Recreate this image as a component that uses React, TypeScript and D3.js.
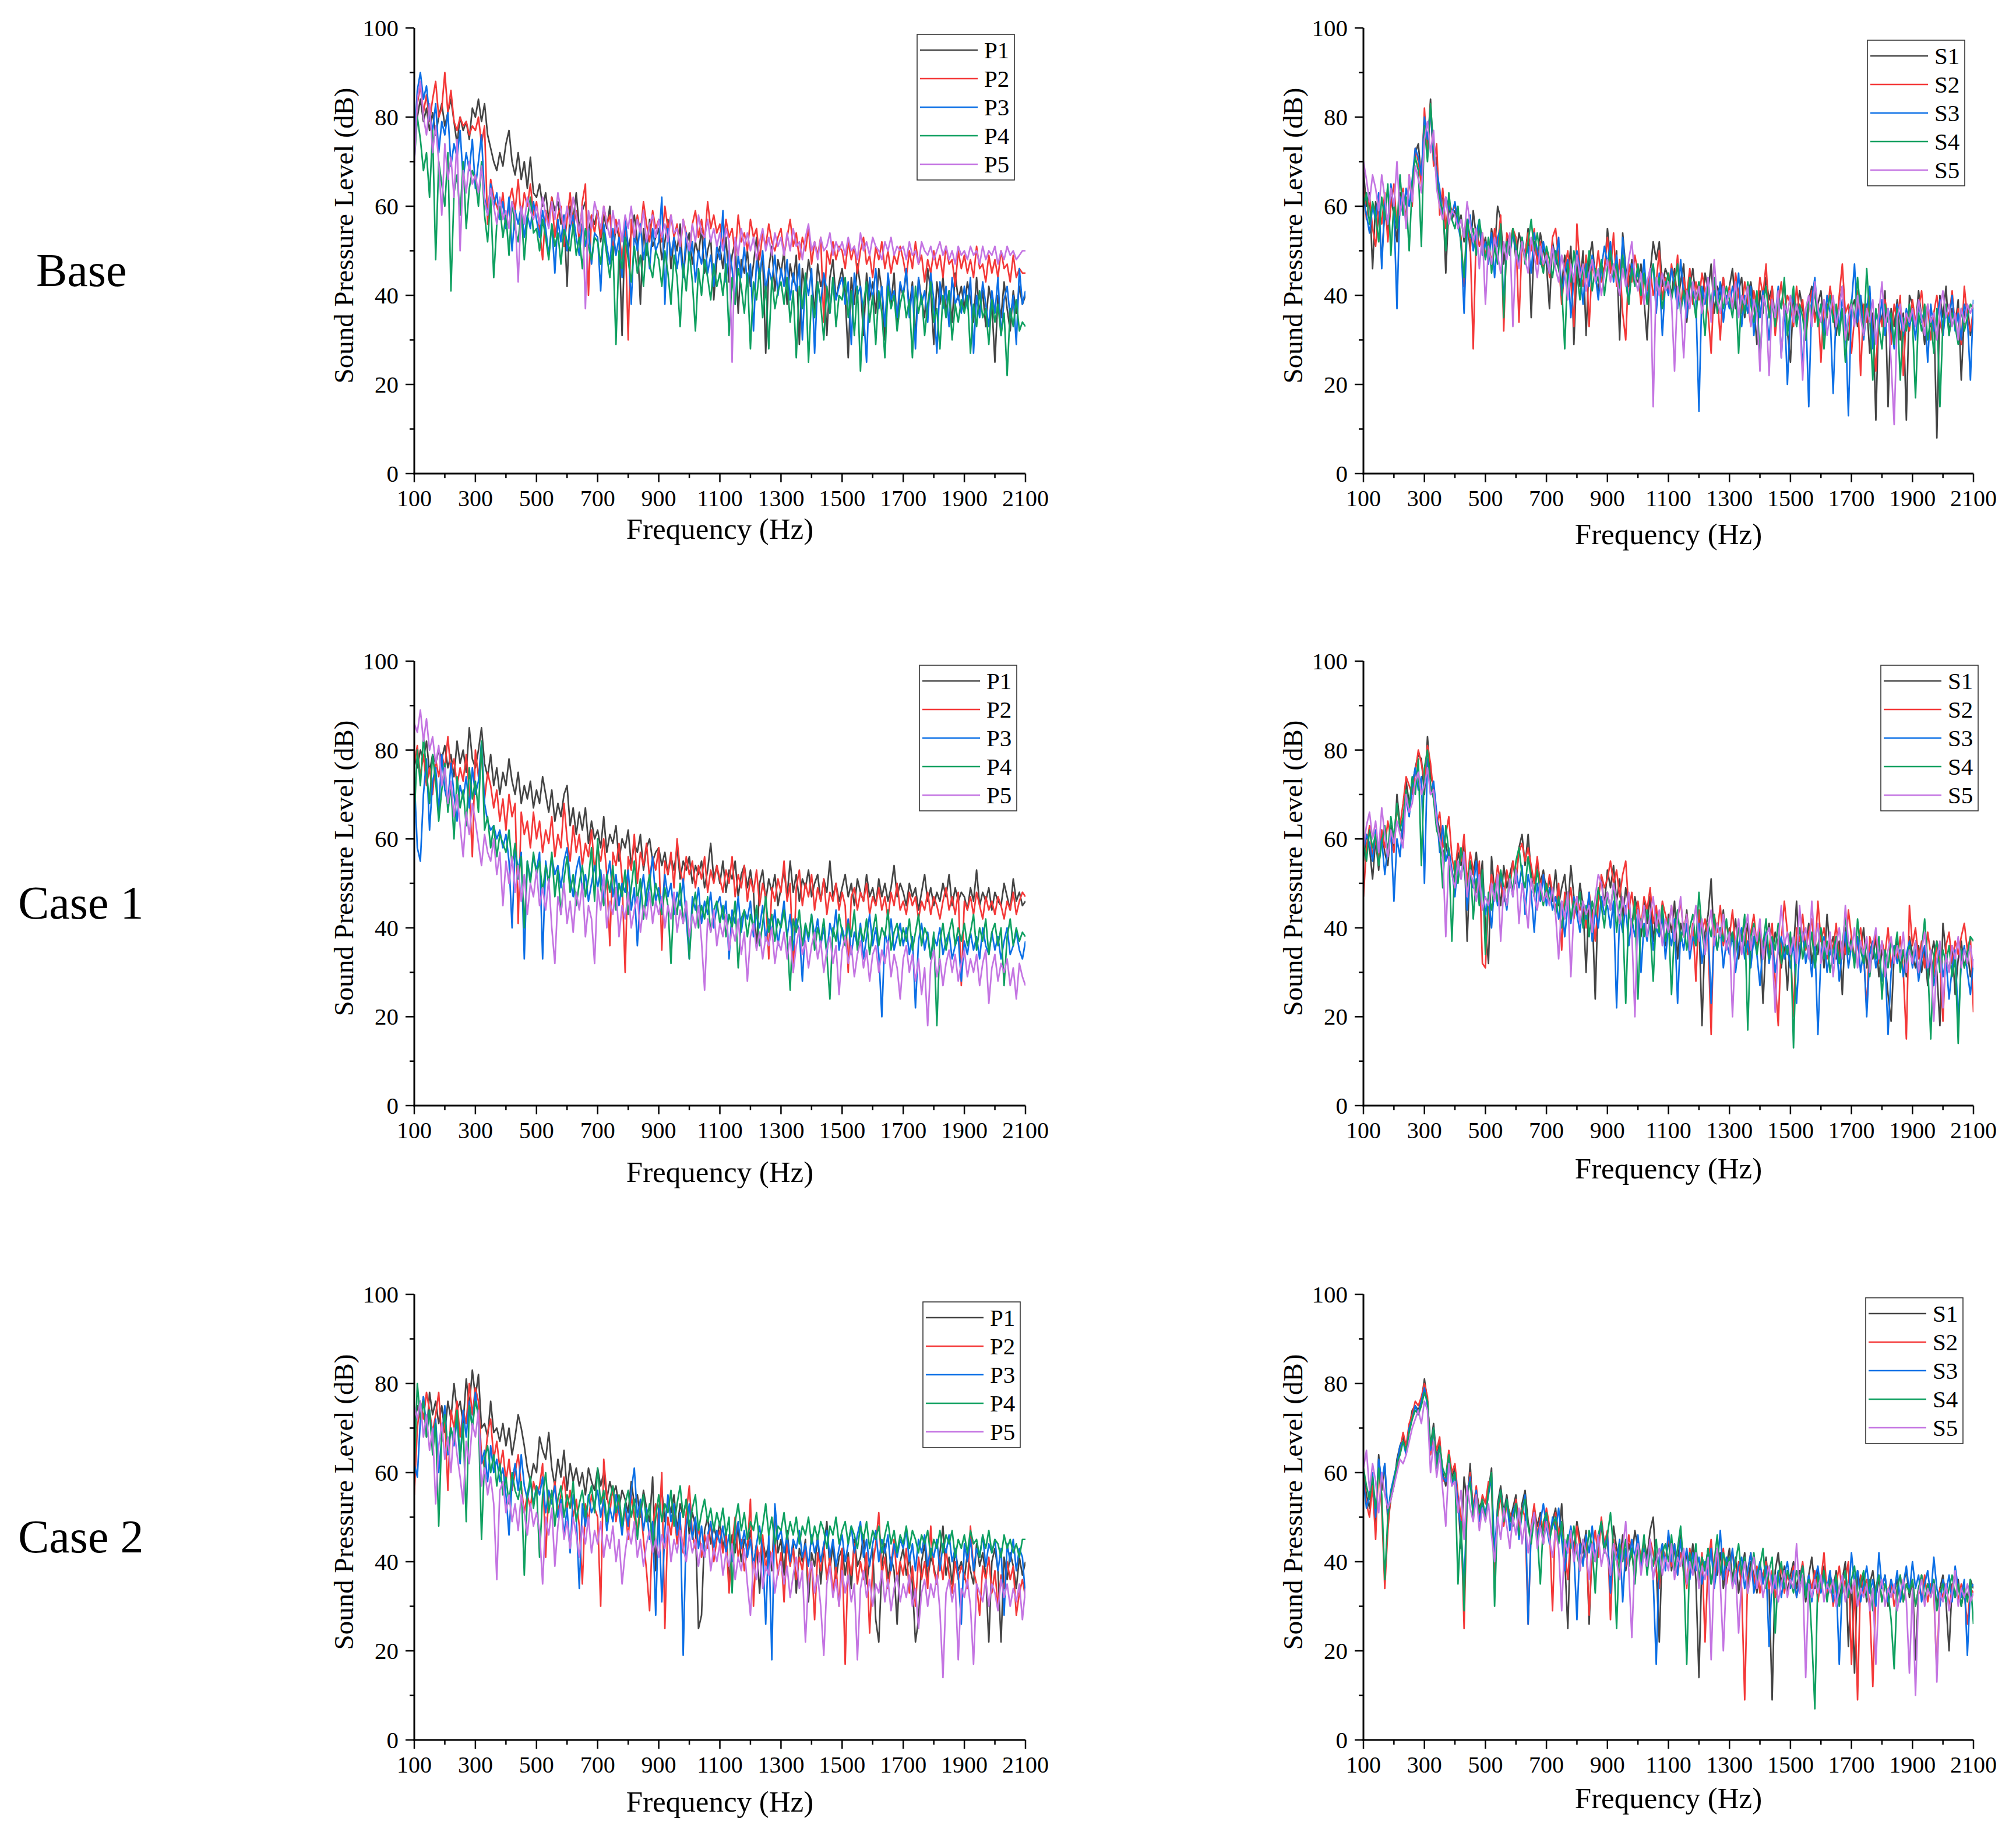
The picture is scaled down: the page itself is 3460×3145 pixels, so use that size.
import React from 'react';
import * as d3 from 'd3';

// sampling grid of the spectra (Hz)
const FREQS = d3.range(100, 2101, 10);
const X_TICKS = [100, 300, 500, 700, 900, 1100, 1300, 1500, 1700, 1900, 2100];
const X_MINOR = [200, 400, 600, 800, 1000, 1200, 1400, 1600, 1800, 2000];
const Y_TICKS = [0, 20, 40, 60, 80, 100];
const Y_MINOR = [10, 30, 50, 70, 90];
const ROW_LABELS = ['Base', 'Case 1', 'Case 2'];
const P_NAMES = ['P1', 'P2', 'P3', 'P4', 'P5'];
const S_NAMES = ['S1', 'S2', 'S3', 'S4', 'S5'];
const LINE_COLORS = ['#444444', '#f43838', '#0b6fe6', '#0fa060', '#c474e2'];

// ---- Base, P points ----
const baseP1 = [
  72,80,84,79,82,77,81,76,80,83,78,81,84,79,74,80,77,79,75,82,
  80,84,79,83,76,73,70,68,72,69,74,77,70,67,72,66,70,64,71,63,
  62,65,60,63,57,62,59,61,56,58,42,60,57,63,55,59,61,54,58,56,
  59,52,58,55,60,48,56,53,31,57,50,54,58,52,38,55,49,57,51,53,
  55,48,52,57,46,53,50,56,44,51,54,47,52,49,55,45,50,53,39,48,
  51,46,53,43,49,52,36,48,45,50,42,47,53,44,49,27,46,51,41,48,
  45,50,38,47,43,49,29,46,41,48,44,36,47,42,45,31,44,48,39,43,
  46,40,26,44,38,47,42,31,45,39,43,36,46,41,30,44,38,45,33,42,
  40,45,37,43,30,44,39,35,46,41,29,43,38,44,36,41,34,45,39,42,
  37,43,39,34,44,36,41,33,42,38,25,40,35,43,37,32,41,36,42,38,
  40];
const baseP2 = [
  76,83,87,81,85,79,84,88,80,82,90,81,86,79,77,80,78,79,76,78,
  77,80,74,78,56,66,62,60,58,63,55,61,64,59,66,57,63,60,65,58,
  61,55,48,59,56,62,53,58,60,51,57,63,55,59,52,61,65,40,58,54,
  59,53,60,56,58,50,57,54,48,55,30,57,52,58,54,61,56,52,59,55,
  57,52,60,55,58,53,56,50,57,54,49,56,59,53,57,52,61,55,58,54,
  56,51,57,53,55,49,58,52,54,50,57,53,55,48,54,51,56,52,50,53,
  55,49,53,57,51,54,48,53,50,55,47,52,49,53,34,50,47,52,48,51,
  50,46,52,48,51,45,50,53,47,49,44,51,48,52,46,50,45,49,47,51,
  48,44,50,46,52,47,49,43,48,45,50,46,49,44,51,47,48,42,50,46,
  49,45,48,44,51,46,47,43,49,45,48,44,50,46,47,43,49,44,46,45,
  45];
const baseP3 = [
  74,86,90,84,87,80,77,83,72,79,76,81,69,74,71,77,66,72,68,75,
  64,70,76,62,58,65,60,63,57,61,55,62,50,59,56,60,53,58,55,61,
  57,53,59,55,49,56,45,57,52,58,50,55,58,53,49,56,51,55,47,54,
  53,41,56,51,47,55,49,53,44,57,51,38,54,50,56,48,53,46,55,50,
  52,62,38,55,49,53,46,51,44,54,48,52,43,50,47,53,45,49,42,51,
  48,59,43,50,46,38,49,44,51,42,47,32,48,44,50,41,46,43,49,40,
  46,42,48,39,45,41,47,30,44,40,46,27,43,38,45,41,36,44,39,42,
  44,38,43,29,45,40,42,36,25,44,39,46,37,42,33,45,39,41,35,43,
  40,46,35,42,28,44,38,41,34,45,39,27,43,37,42,33,44,38,40,36,
  42,37,44,27,40,35,43,38,33,41,36,44,31,39,42,35,40,29,46,38,
  41];
const baseP4 = [
  70,80,75,68,72,62,77,48,70,65,60,72,41,63,67,58,70,55,64,68,
  66,60,70,58,52,62,44,56,60,53,58,49,61,55,52,59,48,57,62,54,
  55,50,57,53,48,56,51,54,47,55,52,50,56,49,53,46,55,51,48,53,
  52,47,54,49,44,51,29,50,46,53,48,43,51,45,49,42,52,47,44,50,
  48,42,50,45,38,49,44,33,47,41,50,43,32,46,40,48,44,39,47,42,
  45,40,47,31,44,38,46,42,36,45,28,43,39,46,35,42,28,44,37,41,
  43,38,44,34,41,26,42,37,45,25,40,35,43,38,30,42,36,44,33,40,
  39,44,35,41,31,42,23,38,43,34,40,29,41,36,26,42,37,40,32,38,
  41,35,39,26,42,36,40,31,38,43,34,37,28,40,35,41,30,38,34,39,
  36,40,27,38,33,41,35,37,29,39,34,38,31,36,22,37,33,39,32,34,
  33];
const baseP5 = [
  69,84,88,80,76,83,72,78,70,58,74,66,71,62,75,50,68,63,70,65,
  67,63,69,61,58,64,60,56,62,57,59,55,61,58,43,60,56,62,59,57,
  60,56,62,58,55,61,57,63,59,55,60,56,62,58,54,60,37,59,55,61,
  58,55,60,56,53,59,54,57,52,58,55,60,53,57,54,59,52,56,58,53,
  57,53,56,52,58,54,55,51,57,53,50,56,52,58,54,53,57,52,55,51,
  54,50,55,52,25,53,49,55,51,54,50,53,48,52,55,50,53,49,54,51,
  53,49,54,50,55,51,52,48,53,56,50,52,48,53,50,51,54,49,52,50,
  52,49,53,50,51,48,54,50,52,49,53,51,50,48,52,50,53,49,51,50,
  51,48,52,49,50,47,52,50,49,51,48,50,52,49,51,48,50,47,51,49,
  50,48,51,49,50,47,51,48,50,49,51,47,50,48,51,49,50,48,49,50,
  50];

// ---- Base, S points ----
const baseS1 = [
  68,60,63,46,61,57,48,59,54,62,58,52,63,60,58,66,62,72,74,66,
  80,73,84,70,71,60,63,45,60,57,59,55,58,52,57,50,59,53,55,50,
  53,48,55,50,60,57,47,53,50,55,48,54,51,49,55,35,52,48,54,50,
  47,37,52,48,46,42,49,44,51,29,47,42,50,31,48,52,44,41,47,45,
  55,48,44,50,30,54,46,42,48,44,43,47,39,30,45,52,48,52,42,46,
  44,40,46,38,43,47,34,42,46,39,43,37,45,41,47,36,42,40,44,38,
  42,46,37,41,44,35,40,43,38,29,41,36,44,39,42,34,40,37,43,32,
  25,40,35,41,37,33,39,42,35,38,41,33,37,40,36,31,38,42,34,30,
  37,39,33,40,35,38,27,36,12,38,34,41,15,37,33,39,30,36,12,40,
  38,33,41,35,29,38,33,36,8,40,35,42,31,37,33,39,21,36,38,31,
  35];
const baseS2 = [
  64,57,62,55,51,60,56,63,52,60,65,55,61,64,56,67,60,73,70,65,
  82,71,83,69,74,58,64,55,61,59,60,57,53,42,56,52,28,55,51,54,
  49,52,47,55,51,58,32,54,52,55,53,34,52,49,54,50,55,47,52,46,
  50,44,53,55,48,38,46,50,43,33,56,46,42,49,33,47,44,50,43,46,
  53,45,54,42,48,36,30,47,43,49,45,38,44,41,46,40,43,50,39,44,
  41,47,42,49,37,44,40,46,38,43,39,45,41,36,27,43,40,30,44,38,
  42,37,45,40,36,43,39,33,41,37,44,40,47,35,42,31,38,43,36,40,
  38,33,42,36,39,30,37,41,34,38,25,39,35,42,37,33,40,47,36,38,
  27,35,41,22,38,34,40,31,23,37,33,39,35,29,38,34,40,22,36,32,
  39,34,37,41,33,38,30,36,40,34,31,38,35,41,33,37,29,42,35,32,
  37];
const baseS3 = [
  62,58,54,60,57,63,46,61,56,65,59,37,62,58,64,60,66,73,71,67,
  80,75,82,71,68,64,57,62,60,58,61,56,52,36,55,58,50,54,57,49,
  52,47,54,44,53,55,38,52,49,54,50,47,53,48,51,45,54,50,47,52,
  48,45,51,47,53,40,45,48,35,44,50,46,38,47,42,49,45,39,46,51,
  47,52,43,49,41,53,45,38,47,43,45,41,48,39,44,47,36,45,31,43,
  40,46,42,37,48,40,35,44,41,39,14,42,38,44,36,41,38,43,34,40,
  37,42,39,45,33,40,36,42,31,39,35,41,37,30,39,35,42,26,38,20,
  36,41,33,38,23,37,15,39,44,35,38,31,40,36,18,37,33,39,35,13,
  38,47,34,40,30,37,42,28,36,33,39,31,37,34,28,38,35,31,37,33,
  36,30,39,34,37,25,38,32,35,39,31,37,34,40,32,36,30,38,35,21,
  39];
const baseS4 = [
  60,63,56,61,58,52,62,57,65,49,61,55,67,58,62,50,65,71,68,51,
  78,70,83,73,66,61,59,50,63,57,55,60,51,44,57,53,55,49,57,52,
  48,53,45,51,47,56,35,52,49,55,51,48,53,47,52,57,50,54,48,45,
  51,48,44,50,46,42,28,47,43,50,45,39,47,44,50,41,46,43,48,40,
  46,50,44,47,41,49,43,38,46,42,47,40,45,38,43,47,41,44,37,42,
  45,39,43,47,36,41,38,44,40,35,43,39,31,42,38,44,36,40,37,42,
  39,35,42,27,40,36,43,38,34,41,25,38,42,35,39,33,40,37,44,31,
  37,42,33,38,35,30,39,36,41,33,38,28,36,40,34,38,31,37,25,35,
  39,34,44,36,31,46,35,21,37,33,28,38,34,36,29,37,21,35,32,38,
  34,17,36,32,38,30,35,27,37,15,34,38,31,36,33,29,37,32,35,38,
  37];
const baseS5 = [
  70,66,61,67,64,59,67,62,56,64,60,70,58,63,55,67,61,69,66,63,
  75,79,72,77,64,60,57,62,56,59,58,55,57,53,61,56,52,55,46,54,
  38,51,47,53,49,45,52,48,54,33,50,46,52,48,45,53,49,44,51,47,
  49,45,51,46,43,49,45,39,47,43,49,44,47,41,45,48,43,46,40,45,
  48,43,47,44,40,46,42,48,52,44,41,45,38,43,46,15,44,40,45,41,
  43,39,23,42,38,26,41,37,43,39,42,36,40,44,34,48,39,36,42,38,
  41,37,43,35,40,38,42,33,39,36,23,40,37,22,39,35,41,26,38,36,
  40,34,38,35,21,37,40,33,43,37,34,39,31,36,40,33,37,42,30,35,
  38,33,40,35,31,37,34,39,29,36,43,33,37,25,11,35,38,32,36,34,
  37,33,39,35,31,38,34,36,30,37,41,35,38,33,36,30,37,34,38,36,
  38];

// ---- Case 1, P points ----
const c1P1 = [
  79,76,80,78,82,75,79,77,80,78,81,76,79,74,82,77,80,75,85,78,
  76,80,85,77,74,79,72,76,70,75,72,78,73,70,75,68,72,69,73,67,
  71,68,74,70,66,71,64,68,65,70,72,63,67,61,66,62,67,59,64,60,
  62,58,65,57,61,59,63,55,60,58,62,54,59,57,61,53,58,60,55,57,
  58,54,57,52,56,53,58,51,55,53,56,50,54,52,55,49,53,59,51,54,
  50,55,48,53,51,55,47,52,54,49,53,48,35,50,53,46,51,48,52,45,
  49,53,47,55,48,52,46,51,49,53,47,50,52,46,51,48,55,47,50,46,
  49,52,47,50,45,51,48,46,52,47,49,45,51,47,50,46,49,54,47,50,
  48,45,50,47,49,44,48,52,46,49,45,48,46,50,47,52,45,49,46,48,
  47,44,49,46,53,45,48,46,49,44,48,46,45,50,47,44,51,46,48,45,
  46];
const c1P2 = [
  77,81,74,79,72,76,70,78,74,79,76,83,75,78,72,76,73,79,71,56,
  80,74,79,69,75,72,67,71,64,69,62,70,65,68,41,66,61,64,58,66,
  60,64,57,62,59,65,56,61,58,68,60,55,63,57,61,54,59,56,62,53,
  58,55,60,52,36,57,54,59,51,30,56,53,61,50,57,54,59,51,56,53,
  58,35,55,52,57,49,60,53,50,56,52,55,49,54,51,56,48,53,50,54,
  51,48,53,50,56,47,52,49,54,46,51,48,53,45,50,47,33,49,46,51,
  48,55,46,50,30,49,53,45,50,47,52,44,49,46,51,43,48,46,50,44,
  48,45,30,47,49,44,48,46,50,43,47,45,49,44,47,42,48,45,50,44,
  46,43,48,45,47,42,46,44,48,43,47,45,42,46,49,44,47,43,48,27,
  46,44,47,43,48,45,42,47,44,46,43,47,45,42,46,44,48,43,46,48,
  47];
const c1P3 = [
  74,58,55,70,78,62,73,76,66,79,71,68,77,70,64,72,69,74,67,76,
  70,73,82,68,64,62,63,60,62,58,61,55,40,58,53,57,33,55,51,56,
  53,57,33,55,50,56,52,54,49,55,58,51,47,53,56,48,52,46,50,54,
  49,53,46,51,55,47,52,45,50,48,53,44,49,36,47,52,45,50,56,46,
  49,44,52,47,50,43,48,45,51,42,33,47,44,49,41,46,43,48,40,45,
  47,42,46,33,44,41,47,39,44,42,46,38,43,40,45,37,42,39,44,36,
  41,46,38,43,35,42,39,28,41,37,43,38,42,36,40,34,41,38,44,35,
  40,37,42,34,39,36,41,33,38,43,36,40,34,20,39,36,42,35,38,41,
  36,40,34,38,22,37,41,35,39,33,38,36,40,34,37,39,33,36,38,28,
  37,34,39,35,38,33,40,36,34,39,35,38,33,37,40,34,36,39,35,33,
  37];
const c1P4 = [
  65,80,72,83,75,68,79,73,64,71,77,66,72,60,74,67,71,63,76,69,
  73,66,82,62,65,58,63,56,61,59,57,62,54,59,51,56,40,55,50,57,
  52,55,48,54,50,57,47,53,43,51,56,48,52,45,50,54,47,51,58,46,
  60,49,45,52,48,54,44,50,47,53,43,49,55,46,51,42,48,52,45,50,
  47,43,49,45,32,47,43,50,41,46,33,44,48,40,45,42,47,39,44,46,
  41,45,38,43,40,46,31,42,44,38,43,40,45,36,41,47,39,43,37,42,
  40,44,38,26,42,39,44,36,41,38,43,35,40,37,42,34,24,40,37,43,
  39,36,41,38,44,35,40,37,42,34,39,43,36,40,38,44,35,39,41,36,
  40,37,42,35,39,43,36,40,38,33,39,18,37,41,35,39,42,36,40,37,
  41,36,39,43,35,40,37,42,34,39,41,36,40,27,38,42,36,40,37,39,
  38];
const c1P5 = [
  86,84,89,82,87,80,83,77,81,72,76,68,73,65,70,63,56,66,61,68,
  64,59,54,61,57,55,60,52,57,45,55,50,56,48,54,46,52,43,50,47,
  53,45,49,44,51,40,32,47,43,50,41,46,39,48,44,50,38,45,42,32,
  49,44,52,40,46,43,49,38,45,42,48,40,44,47,39,45,42,48,41,46,
  43,47,40,45,42,48,39,44,41,46,38,43,40,45,37,26,42,39,44,36,
  41,38,43,35,40,37,42,34,39,28,38,41,35,39,33,38,36,40,32,37,
  35,39,33,38,30,36,40,34,37,31,36,39,33,37,30,35,38,32,36,25,
  35,38,32,36,29,34,37,31,35,28,34,36,30,35,32,37,29,34,31,24,
  33,36,30,34,28,33,25,31,18,32,35,29,33,27,32,35,30,34,28,32,
  35,29,33,30,34,27,32,35,23,31,34,28,32,30,33,27,31,24,32,29,
  27];

// ---- Case 1, S points ----
const c1S1 = [
  55,61,58,51,60,53,62,57,54,63,58,70,63,60,73,68,72,76,79,78,
  70,83,74,72,65,62,56,59,55,53,49,57,54,60,37,55,52,57,49,55,
  40,32,56,48,51,45,54,49,52,55,50,58,61,54,61,52,47,55,50,53,
  48,51,46,53,45,49,52,44,54,47,43,50,45,30,47,44,24,48,51,45,
  53,49,54,46,51,42,49,45,40,47,43,38,46,41,47,37,44,40,42,36,
  43,39,46,33,41,38,44,35,40,37,42,18,39,43,51,36,41,38,44,35,
  40,37,42,33,39,36,41,32,38,35,40,23,37,41,34,39,36,31,37,26,
  38,35,46,33,39,36,41,32,37,34,39,31,43,35,38,33,37,25,40,34,
  38,32,37,35,40,31,36,33,38,29,35,32,25,19,34,37,31,35,29,38,
  34,31,36,30,35,27,33,37,30,18,41,34,30,36,25,33,37,31,35,29,
  33];
const c1S2 = [
  47,58,63,56,60,55,62,58,64,60,57,67,63,68,74,72,70,75,80,77,
  73,81,77,70,63,66,58,61,65,56,52,59,55,61,50,57,53,48,55,32,
  31,46,52,48,54,50,46,53,49,55,51,57,59,55,58,54,50,56,49,52,
  47,52,48,44,50,35,48,44,49,42,47,44,46,40,48,43,37,46,52,49,
  51,55,50,53,47,52,55,44,48,42,46,40,47,44,49,41,45,38,46,43,
  40,45,37,42,46,39,43,36,41,28,44,39,42,37,16,43,39,45,36,41,
  38,44,35,40,37,42,34,39,43,36,40,33,38,35,41,28,18,37,46,39,
  36,20,40,37,43,35,39,42,34,46,37,40,33,38,35,41,32,37,34,44,
  38,33,36,40,34,22,38,35,39,32,37,34,40,31,36,33,38,30,15,45,
  36,40,33,37,31,39,34,29,37,33,19,36,39,32,37,34,38,41,35,38,
  21];
const c1S3 = [
  57,61,59,55,62,57,60,52,58,62,46,60,56,64,69,65,72,76,71,74,
  50,78,70,73,66,57,63,55,58,53,47,55,51,57,44,52,49,55,46,51,
  43,47,40,50,45,52,48,44,51,47,53,49,54,43,52,48,39,50,46,52,
  45,49,44,47,42,46,38,45,41,47,43,39,46,42,48,37,44,40,47,43,
  45,40,46,22,43,39,45,36,42,38,44,30,41,37,43,35,40,38,44,33,
  40,36,42,23,39,35,41,33,38,36,41,32,37,40,23,38,35,40,31,37,
  34,39,30,36,40,33,37,31,38,34,27,36,39,32,37,30,35,38,33,36,
  31,38,23,35,39,32,36,29,37,16,34,38,30,35,32,37,28,35,39,31,
  36,33,38,30,35,20,34,37,31,35,28,33,16,30,36,32,35,29,34,37,
  31,35,28,33,36,30,34,27,32,35,29,33,24,31,35,19,32,36,30,25,
  33];
const c1S4 = [
  60,55,62,58,61,54,59,63,57,65,60,68,62,65,71,67,74,70,78,54,
  76,80,72,69,62,60,49,63,57,37,55,50,58,53,48,55,42,51,45,53,
  34,48,44,50,46,53,49,45,52,48,55,58,52,49,56,51,47,53,48,45,
  50,46,48,43,47,40,45,48,42,46,44,48,40,45,38,46,43,49,45,40,
  48,44,50,39,46,42,23,44,40,46,24,42,38,44,40,28,43,39,45,37,
  42,25,40,44,37,41,35,40,43,36,48,39,34,41,38,43,35,40,37,42,
  36,39,34,40,37,43,17,38,41,34,39,36,42,33,38,35,41,32,37,34,
  39,13,36,40,33,37,34,39,31,36,40,33,37,30,35,38,32,36,43,34,
  37,31,42,35,32,37,29,36,33,38,24,35,31,37,34,39,30,35,32,36,
  33,37,30,35,42,32,15,34,37,30,35,32,36,29,33,14,35,31,34,38,
  37];
const c1S5 = [
  58,63,66,60,64,57,67,61,56,62,59,64,61,58,70,66,68,73,75,70,
  72,76,70,71,64,60,57,38,56,52,49,55,51,57,47,53,50,46,52,44,
  47,45,50,46,52,37,49,45,51,47,53,41,50,46,40,51,47,44,50,46,
  48,45,49,43,33,46,42,48,29,44,47,41,46,43,45,39,47,52,50,45,
  48,44,50,46,41,47,43,48,39,20,44,40,45,38,43,47,40,44,36,42,
  39,45,37,42,47,38,43,35,40,45,37,42,34,40,44,36,41,38,43,35,
  39,20,37,42,34,39,43,35,40,37,42,33,38,40,35,21,37,45,36,39,
  34,38,32,45,37,40,33,46,36,41,32,37,34,39,29,36,40,33,45,37,
  35,40,31,37,34,38,30,36,40,33,37,29,35,38,32,36,33,39,30,35,
  32,37,30,35,39,31,35,19,33,37,22,34,30,36,33,38,31,35,32,36,
  31];

// ---- Case 2, P points ----
const c2P1 = [
  70,75,72,77,68,78,73,76,71,75,69,76,72,80,74,76,71,81,75,83,
  77,82,70,71,68,76,69,70,67,71,66,70,64,68,73,70,66,61,58,62,
  60,68,65,63,69,61,57,63,59,65,56,62,58,61,57,60,55,61,58,56,
  61,57,60,54,58,55,57,52,56,54,51,58,53,55,50,56,52,49,59,38,
  52,56,49,54,51,55,47,53,50,54,46,51,48,25,28,47,50,44,48,45,
  49,43,47,35,46,42,48,40,45,43,47,39,44,33,45,41,44,38,52,42,
  45,37,47,40,44,33,43,40,45,31,42,39,46,35,43,49,38,44,36,41,
  43,37,42,34,45,39,41,46,35,40,43,27,22,39,44,36,41,38,26,40,
  43,37,41,35,22,27,40,44,36,41,39,35,42,48,37,41,35,43,38,40,
  36,42,38,35,44,39,42,37,22,40,43,38,22,41,36,42,39,34,41,37,
  40];
const c2P2 = [
  55,70,76,72,78,74,69,73,78,67,72,56,74,70,76,68,74,71,80,73,
  79,76,64,61,69,72,63,67,61,65,58,63,56,60,64,57,51,55,52,58,
  55,57,62,41,56,53,58,51,55,59,52,56,50,54,48,35,53,49,55,52,
  50,30,63,55,51,57,49,54,47,52,45,55,50,47,53,45,38,29,48,53,
  47,60,25,50,46,52,44,49,42,51,57,46,43,48,41,46,43,49,40,45,
  47,42,46,33,44,50,41,45,38,43,54,30,44,40,46,38,43,41,45,37,
  42,31,44,39,43,36,41,38,44,35,40,27,42,38,44,36,41,33,39,30,
  43,17,41,37,44,35,40,36,42,24,39,44,51,37,41,34,39,45,36,40,
  37,43,33,39,30,41,36,40,34,48,38,35,41,36,43,37,33,40,36,39,
  37,34,48,38,35,28,39,36,41,33,38,30,37,34,40,36,39,28,33,36,
  32];
const c2P3 = [
  62,59,72,77,70,74,66,72,60,68,75,64,70,66,72,62,74,68,76,70,
  78,72,62,65,58,66,60,63,58,61,55,46,58,62,56,64,57,54,58,53,
  57,55,59,51,56,53,57,50,54,46,52,42,55,50,34,53,48,55,51,53,
  56,50,54,47,52,49,55,51,46,53,48,56,61,50,54,47,52,45,49,28,
  52,31,47,55,49,53,46,51,19,48,53,45,50,43,48,41,46,49,43,47,
  44,48,42,46,40,45,49,43,47,41,45,39,44,48,42,26,46,18,53,45,
  47,42,46,40,45,43,47,41,44,39,46,42,45,40,44,47,41,45,39,43,
  46,40,44,48,42,46,49,41,45,39,44,47,40,45,42,46,38,44,41,45,
  43,47,40,44,38,45,42,46,39,43,41,45,38,44,42,46,40,43,37,26,
  44,40,45,38,43,41,46,39,44,42,45,38,43,28,44,40,45,38,43,41,
  32];
const c2P4 = [
  60,80,72,76,68,74,64,71,48,69,73,65,70,67,74,63,71,49,75,70,
  76,73,45,63,66,60,64,57,62,55,59,53,60,56,54,58,37,55,59,52,
  57,41,55,60,51,56,48,54,57,50,55,52,58,49,53,56,50,54,57,51,
  61,53,56,49,54,57,51,55,48,53,56,50,54,45,52,55,49,53,42,50,
  55,49,53,51,56,48,53,57,50,54,48,52,55,47,51,54,49,52,47,51,
  48,52,46,50,33,49,53,47,51,45,49,47,51,44,48,53,46,50,44,48,
  47,51,45,49,46,50,44,48,46,50,44,48,45,49,47,43,48,46,50,44,
  47,49,44,48,46,43,48,45,49,43,47,45,48,42,46,49,44,47,42,46,
  44,48,43,47,45,42,46,44,47,41,45,43,47,42,46,44,47,41,45,43,
  46,42,47,44,45,41,46,43,47,42,45,44,41,46,43,45,42,44,41,45,
  45];
const c2P5 = [
  75,72,76,68,73,65,70,53,66,71,63,68,60,70,64,59,53,67,62,71,
  68,74,57,61,55,59,53,36,56,58,51,55,49,53,47,55,51,46,53,48,
  51,47,35,50,46,52,39,48,53,45,49,43,50,46,41,48,44,50,42,47,
  44,49,41,46,43,48,40,45,35,42,47,44,49,41,45,39,44,47,42,45,
  41,46,43,48,40,45,42,47,43,40,46,42,45,39,44,41,46,38,43,40,
  44,37,42,39,44,36,41,38,43,35,28,40,36,42,34,39,37,42,33,38,
  40,35,39,32,37,41,34,38,22,36,40,33,37,30,19,35,39,32,36,30,
  38,33,37,31,35,18,34,38,32,36,30,35,33,38,31,36,29,34,37,31,
  35,32,37,30,34,25,33,36,30,35,32,37,29,14,33,36,31,35,18,34,
  32,36,30,17,35,33,31,36,30,35,33,29,36,32,35,30,34,31,35,27,
  34];

// ---- Case 2, S points ----
const c2S1 = [
  60,55,52,58,48,64,56,62,49,54,57,63,66,68,65,70,74,75,74,76,
  81,76,66,71,63,67,60,57,64,59,61,54,43,59,53,62,50,56,52,54,
  50,56,61,34,53,57,51,55,49,52,55,47,53,56,49,45,52,48,51,44,
  50,46,49,52,45,53,41,25,47,43,49,45,42,47,26,44,40,46,48,42,
  45,35,48,43,40,46,38,44,41,47,43,39,45,41,47,50,39,22,44,40,
  45,38,43,40,46,37,42,39,44,36,14,41,38,43,35,40,37,42,34,39,
  43,36,41,33,38,42,35,40,37,33,39,36,41,34,9,38,42,35,39,33,
  37,40,34,38,36,31,37,41,34,38,35,39,32,37,34,38,31,36,40,21,
  36,15,38,34,37,31,35,38,32,36,34,37,30,35,33,36,31,35,38,32,
  36,18,34,37,31,35,33,36,30,34,37,31,20,35,32,36,30,34,32,36,
  34];
const c2S2 = [
  59,53,50,57,45,62,52,34,47,55,58,61,65,69,66,71,73,76,75,77,
  80,77,64,69,65,68,58,59,65,60,62,55,50,25,54,60,52,57,50,55,
  53,58,57,37,50,55,48,53,51,49,54,47,52,50,26,48,53,46,50,47,
  52,48,29,51,46,49,43,36,46,41,48,43,40,45,28,43,47,41,50,44,
  47,27,45,41,37,44,39,46,42,36,45,41,44,38,45,42,38,34,43,40,
  46,39,44,37,42,39,34,43,38,41,35,42,22,40,45,36,41,38,43,35,
  39,42,36,40,34,9,38,42,35,39,33,37,40,34,38,32,36,39,33,37,
  35,39,32,36,40,33,37,34,38,31,36,42,33,37,30,35,39,33,36,40,
  17,35,9,37,33,36,30,12,34,37,31,35,33,36,30,34,37,31,35,33,
  36,30,34,32,37,31,35,33,15,34,32,35,30,34,38,31,35,33,26,34,
  33];
const c2S3 = [
  58,52,55,60,50,63,58,62,51,56,59,62,66,67,64,70,72,75,73,76,
  79,75,65,70,62,66,59,58,63,57,60,53,47,34,55,59,51,56,49,53,
  51,55,59,42,52,56,50,54,47,51,53,45,51,55,26,47,51,45,49,53,
  48,44,50,47,52,45,38,44,48,42,27,44,39,46,42,48,41,45,49,43,
  46,33,44,40,45,31,43,39,45,41,46,38,43,40,44,36,17,41,44,38,
  47,40,44,37,45,39,43,36,42,38,41,35,40,37,43,34,39,47,36,41,
  38,43,35,39,41,34,38,42,33,37,40,35,39,21,37,34,38,32,37,40,
  34,38,32,36,39,33,37,31,36,39,33,37,34,38,31,36,17,35,38,32,
  42,35,38,31,35,39,33,36,30,42,34,37,31,36,33,38,31,35,39,33,
  40,34,37,31,35,38,32,41,34,30,36,33,37,31,39,34,32,36,19,34,
  35];
const c2S4 = [
  61,57,54,59,52,61,55,36,50,55,58,62,64,67,65,69,72,74,73,75,
  78,76,66,70,61,66,61,59,64,58,60,35,49,29,55,58,50,55,51,54,
  49,56,60,30,52,56,49,54,50,48,53,46,51,54,48,44,50,46,35,49,
  51,45,48,50,44,49,41,46,43,48,42,38,45,41,47,43,33,46,49,42,
  46,51,43,25,44,40,45,39,43,35,44,40,46,37,43,39,45,36,42,44,
  40,46,38,43,48,39,17,42,38,44,36,41,38,43,35,40,46,37,42,39,
  41,35,40,44,37,41,33,38,42,35,39,43,34,38,41,24,37,40,34,38,
  36,33,38,35,39,32,36,23,7,37,34,38,31,36,33,37,30,35,38,32,
  36,39,31,35,38,32,36,29,34,37,31,35,33,27,16,34,37,31,35,33,
  36,30,34,37,31,35,32,36,29,33,35,31,34,37,32,35,30,34,31,36,
  26];
const c2S5 = [
  61,65,56,62,58,51,60,55,52,54,57,60,63,62,64,67,70,72,74,71,
  76,74,60,67,59,64,56,48,62,57,58,51,56,45,57,52,49,55,47,52,
  49,53,46,40,50,45,52,48,43,50,46,52,44,49,42,47,51,43,48,44,
  49,45,41,47,43,29,45,42,47,40,44,38,45,42,36,44,40,46,39,43,
  41,37,44,40,36,43,49,38,23,41,44,37,42,39,45,36,40,43,37,41,
  38,44,36,41,39,43,35,40,37,42,34,39,36,41,18,38,43,35,20,37,
  40,34,38,24,36,40,33,37,41,34,38,32,36,39,33,37,31,35,38,32,
  36,34,44,33,37,14,35,32,36,33,37,31,35,33,36,30,34,37,31,35,
  33,36,30,34,32,35,29,34,17,33,36,30,34,32,35,29,33,36,31,15,
  34,10,33,36,30,34,32,35,13,33,31,35,29,33,38,30,34,32,35,31,
  33];

const PANELS = [
  { row: 0, col: 0, names: P_NAMES, series: [baseP1, baseP2, baseP3, baseP4, baseP5] },
  { row: 0, col: 1, names: S_NAMES, series: [baseS1, baseS2, baseS3, baseS4, baseS5] },
  { row: 1, col: 0, names: P_NAMES, series: [c1P1, c1P2, c1P3, c1P4, c1P5] },
  { row: 1, col: 1, names: S_NAMES, series: [c1S1, c1S2, c1S3, c1S4, c1S5] },
  { row: 2, col: 0, names: P_NAMES, series: [c2P1, c2P2, c2P3, c2P4, c2P5] },
  { row: 2, col: 1, names: S_NAMES, series: [c2S1, c2S2, c2S3, c2S4, c2S5] },
];

// layout (px)
const WIDTH = 3460;
const HEIGHT = 3145;
const PLOT_COLS = [{ left: 711, right: 1760 }, { left: 2340, right: 3387 }];
const PLOT_ROWS = [{ top: 48, bottom: 813 }, { top: 1135, bottom: 1898 }, { top: 2222, bottom: 2987 }];
const LEGEND_POS = [
  [[1574, 59], [3205, 69]],
  [[1578, 1142], [3228, 1142]],
  [[1584, 2235], [3202, 2228]],
];
const XTITLE_OFFSET = [[95, 104], [114, 108], [106, 100]];
const ROW_LABEL_X = [62, 31, 31];
const FONT = "'Liberation Serif', 'Times New Roman', Times, serif";

const Panel = ({ row, col, names, series }) => {
  const { left, right } = PLOT_COLS[col];
  const { top, bottom } = PLOT_ROWS[row];
  const x = d3.scaleLinear().domain([100, 2100]).range([left, right]);
  const y = d3.scaleLinear().domain([0, 100]).range([bottom, top]);
  const line = d3.line<number>()
    .x((_, i) => x(FREQS[i]))
    .y(d => y(d));
  const [lx, ly] = LEGEND_POS[row][col];
  const clipId = `clip-${row}-${col}`;

  return (
    <g>
      <clipPath id={clipId}>
        <rect x={left} y={top - 20} width={right - left} height={bottom - top + 20} />
      </clipPath>

      <g clipPath={`url(#${clipId})`}>
        {series.map((vals, i) => (
          <path
            key={i}
            d={line(vals) || ''}
            fill="none"
            stroke={LINE_COLORS[i]}
            strokeWidth={2.7}
            strokeLinejoin="round"
          />
        ))}
      </g>

      {/* axes */}
      <line x1={left} x2={left} y1={top} y2={bottom + 1.5} stroke="#000" strokeWidth={3} />
      <line x1={left - 1.5} x2={right} y1={bottom} y2={bottom} stroke="#000" strokeWidth={3} />

      {Y_TICKS.map(t => (
        <g key={`yt${t}`}>
          <line x1={left - 15} x2={left} y1={y(t)} y2={y(t)} stroke="#000" strokeWidth={2.5} />
          <text x={left - 27} y={y(t)} textAnchor="end" dominantBaseline="central"
            fontFamily={FONT} fontSize={41}>{t}</text>
        </g>
      ))}
      {Y_MINOR.map(t => (
        <line key={`ym${t}`} x1={left - 8} x2={left} y1={y(t)} y2={y(t)} stroke="#000" strokeWidth={2.5} />
      ))}
      {X_TICKS.map(t => (
        <g key={`xt${t}`}>
          <line x1={x(t)} x2={x(t)} y1={bottom} y2={bottom + 15} stroke="#000" strokeWidth={2.5} />
          <text x={x(t)} y={bottom + 42} textAnchor="middle" dominantBaseline="central"
            fontFamily={FONT} fontSize={40}>{t}</text>
        </g>
      ))}
      {X_MINOR.map(t => (
        <line key={`xm${t}`} x1={x(t)} x2={x(t)} y1={bottom} y2={bottom + 8} stroke="#000" strokeWidth={2.5} />
      ))}

      <text
        transform={`translate(${left - 121},${(top + bottom) / 2 - 26}) rotate(-90)`}
        textAnchor="middle" dominantBaseline="central" fontFamily={FONT} fontSize={47}
      >Sound Pressure Level (dB)</text>
      <text x={(left + right) / 2} y={bottom + XTITLE_OFFSET[row][col]}
        textAnchor="middle" dominantBaseline="central" fontFamily={FONT} fontSize={51}
      >Frequency (Hz)</text>

      {/* legend */}
      <rect x={lx} y={ly} width={167} height={250} fill="#fff" stroke="#333" strokeWidth={1.6} />
      {names.map((n, i) => (
        <g key={n}>
          <line x1={lx + 5} x2={lx + 104} y1={ly + 27 + i * 49} y2={ly + 27 + i * 49}
            stroke={LINE_COLORS[i]} strokeWidth={2.7} />
          <text x={lx + 115} y={ly + 27 + i * 49} dominantBaseline="central"
            fontFamily={FONT} fontSize={41}>{n}</text>
        </g>
      ))}
    </g>
  );
};

export default function App() {
  return (
    <svg width={WIDTH} height={HEIGHT} viewBox={`0 0 ${WIDTH} ${HEIGHT}`}
      style={{ position: 'absolute', left: 0, top: 0, background: '#fff' }}>
      <rect width={WIDTH} height={HEIGHT} fill="#fff" />
      {ROW_LABELS.map((label, r) => (
        <text key={label} x={ROW_LABEL_X[r]} y={(PLOT_ROWS[r].top + PLOT_ROWS[r].bottom) / 2 + 33}
          dominantBaseline="central" fontFamily={FONT} fontSize={80}>{label}</text>
      ))}
      {PANELS.map(p => (
        <Panel key={`${p.row}-${p.col}`} {...p} />
      ))}
    </svg>
  );
}
